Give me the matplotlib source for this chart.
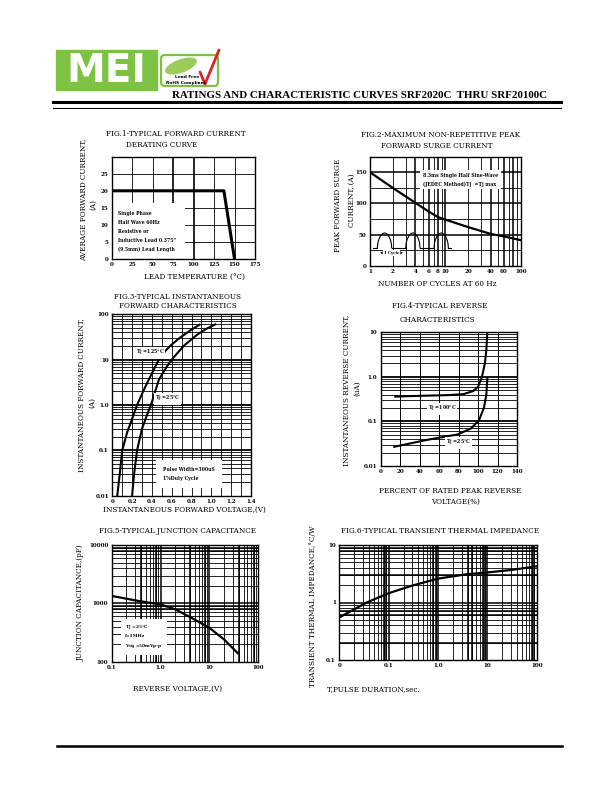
import numpy as np
import matplotlib
matplotlib.use('Agg')
import matplotlib.pyplot as plt
from matplotlib.patches import Rectangle, FancyBboxPatch, Ellipse

# ---- data ----
fig1_temp = [0, 137, 150]
fig1_current = [20, 20, 0]
fig1_xticks = [0, 25, 50, 75, 100, 125, 150, 175]
fig1_yticks = [0, 5, 10, 15, 20, 25]

fig2_cycles = [1, 2, 4, 6, 8, 10, 20, 40, 60, 100]
fig2_surge = [150, 125, 101, 87, 78, 74, 62, 51, 47, 41]
fig2_xticks = [1, 2, 4, 6, 8, 10, 20, 40, 60, 100]
fig2_yticks = [0, 50, 100, 150]

fig3_v_125 = [0.05, 0.075, 0.10, 0.15, 0.19, 0.25, 0.32, 0.40, 0.47, 0.54, 0.60, 0.67, 0.73, 0.80, 0.88]
fig3_i_125 = [0.01, 0.03, 0.1, 0.25, 0.43, 1.0, 2.2, 5.0, 10, 16, 21.5, 29, 36, 46, 59]
fig3_v_25 = [0.20, 0.22, 0.25, 0.30, 0.35, 0.39, 0.47, 0.54, 0.60, 0.67, 0.73, 0.80, 0.86, 0.95, 1.04]
fig3_i_25 = [0.01, 0.03, 0.1, 0.3, 0.6, 1.0, 3.6, 6.5, 10, 15, 21, 28, 36, 48, 60]
fig3_xticks = [0, 0.2, 0.4, 0.6, 0.8, 1.0, 1.2, 1.4]
fig3_xlabels = ['0', '0.2', '0.4', '0.6', '0.8', '1.0', '1.2', '1.4']
fig3_yticks = [0.01, 0.1, 1, 10, 100]
fig3_ylabels = ['0.01', '0.1', '1.0', '10', '100']

fig4_pct_100 = [15, 30, 50, 70, 85, 95, 100, 104, 107, 108.5, 109.5]
fig4_ir_100 = [0.36, 0.37, 0.38, 0.39, 0.41, 0.48, 0.6, 1.0, 2.0, 4.0, 10]
fig4_pct_25 = [14, 30, 46, 62, 79, 93, 101, 106, 108.5, 109.5]
fig4_ir_25 = [0.027, 0.032, 0.038, 0.044, 0.051, 0.07, 0.107, 0.2, 0.4, 0.9]
fig4_xticks = [0, 20, 40, 60, 80, 100, 120, 140]
fig4_yticks = [0.01, 0.1, 1, 10]
fig4_ylabels = ['0.01', '0.1', '1.0', '10']

fig5_v = [0.1, 0.35, 1.0, 2.0, 4.3, 10, 20, 38]
fig5_cj = [1340, 1100, 960, 790, 565, 380, 240, 140]
fig5_xticks = [0.1, 1, 10, 100]
fig5_xlabels = ['0.1', '1.0', '10', '100']
fig5_yticks = [100, 1000, 10000]
fig5_ylabels = ['100', '1000', '10000']

fig6_t = [0.01, 0.036, 0.1, 0.29, 1.0, 3.8, 10, 32, 100]
fig6_z = [0.55, 1.0, 1.45, 1.95, 2.6, 3.1, 3.33, 3.7, 4.25]
fig6_xticks = [0.01, 0.1, 1, 10, 100]
fig6_xlabels = ['0', '0.1', '1.0', '10', '100']
fig6_yticks = [0.1, 1, 10]
fig6_ylabels = ['0.1', '1', '10']

W, H = 612, 792
plt.rcParams['font.family'] = 'DejaVu Serif'
plt.rcParams['mathtext.fontset'] = 'dejavuserif'

fig = plt.figure(figsize=(6.12, 7.92), dpi=100)
bg = fig.add_axes([0, 0, 1, 1], zorder=-1)
bg.set_xlim(0, W)
bg.set_ylim(H, 0)
bg.axis('off')


def box(l, t, r, b):
    ax = fig.add_axes([l / W, 1 - b / H, (r - l) / W, (b - t) / H])
    for sp in ax.spines.values():
        sp.set_linewidth(1.0)
    ax.tick_params(length=0, pad=2.5, labelsize=4)
    return ax


def label(x, y, s, size=5.2, rot=0, ha='center'):
    bg.text(x, y, s, fontsize=size, rotation=rot, ha=ha, va='center')


def bold_ticks(ax):
    for t in ax.get_xticklabels() + ax.get_yticklabels():
        t.set_fontweight('bold')


def vgrid(ax, xs, lw=0.5):
    for x in xs:
        ax.axvline(x, color='k', lw=lw, zorder=1)


def hgrid(ax, ys, lw=0.5):
    for y in ys:
        ax.axhline(y, color='k', lw=lw, zorder=1)


def minors(lo, hi):
    return [k * 10.0 ** e for e in range(lo, hi) for k in range(2, 10)]


def decades(lo, hi):
    return [10.0 ** e for e in range(lo, hi + 1)]


# ---------------- header ----------------
bg.add_patch(Rectangle((56, 50), 101, 40, color='#7DC242'))
bg.text(106, 71, 'MEI', color='white', fontsize=28, fontweight='bold',
        family='DejaVu Sans', ha='center', va='center')
bg.add_patch(FancyBboxPatch((161, 55), 57, 31, boxstyle='round,pad=0,rounding_size=4',
                            fc='white', ec='#7DC242', lw=1.6))
bg.add_patch(Ellipse((181, 66), 32, 12, angle=-20, color='#9CCB5A'))
bg.text(187, 77.5, 'Lead Free', fontsize=3.2, fontweight='bold', family='DejaVu Sans', ha='center', va='center')
bg.text(186, 83, 'RoHS Compliant', fontsize=3.2, fontweight='bold', family='DejaVu Sans', ha='center', va='center')
bg.plot([200, 205, 219], [72, 84, 50], color='#E02020', lw=2.0, solid_capstyle='round')
bg.text(172, 95, 'RATINGS AND CHARACTERISTIC CURVES SRF2020C  THRU SRF20100C',
        fontsize=7.9, fontweight='bold', family='Liberation Serif', ha='left', va='center')
bg.plot([53, 561], [102, 102], color='k', lw=2.2)
bg.plot([53, 561], [107.5, 107.5], color='k', lw=0.8)
bg.plot([57, 562], [746, 746], color='k', lw=1.8)

# ---------------- FIG.1 ----------------
ax1 = box(111.7, 156.7, 255, 259)
ax1.set_xlim(0, 175)
ax1.set_ylim(0, 30)
vgrid(ax1, [25, 50, 125, 150], 0.6)
vgrid(ax1, [75, 100], 1.2)
hgrid(ax1, [5, 10, 15, 25], 0.6)
ax1.plot(fig1_temp, fig1_current, color='k', lw=2.2, zorder=3)
ax1.set_xticks(fig1_xticks)
ax1.set_yticks(fig1_yticks)
bold_ticks(ax1)
ax1.text(8, 8, 'Single Phase\nHalf Wave 60Hz\nResistive or\nInductive Load 0.375"\n(9.5mm) Lead Length',
         fontsize=3.3, fontweight='bold', linespacing=2.0, va='center', ha='left', zorder=2,
         bbox=dict(fc='white', ec='none', pad=6))
label(176, 134, 'FIG.1-TYPICAL FORWARD CURRENT')
label(162, 145, 'DERATING CURVE')
label(83, 200, 'AVERAGE FORWARD CURRENT,', rot=90)
label(93, 205, '(A)', rot=90)
label(194, 277, 'LEAD TEMPERATURE (\u00b0C)')

# ---------------- FIG.2 ----------------
ax2 = box(370, 156.7, 520.7, 265.7)
ax2.set_xscale('log')
ax2.set_xlim(1, 100)
ax2.set_ylim(0, 175)
vgrid(ax2, [2, 3, 5, 7, 9, 20, 30, 50, 70, 90], 0.6)
vgrid(ax2, [4, 6, 8, 10, 40, 60, 80], 1.1)
hgrid(ax2, [25, 75, 125], 0.6)
hgrid(ax2, [50, 100, 150], 1.1)
ax2.plot(fig2_cycles, fig2_surge, color='k', lw=1.6, zorder=3)
ax2.set_xticks(fig2_xticks)
ax2.set_xticklabels([str(v) for v in fig2_xticks])
ax2.xaxis.set_minor_locator(matplotlib.ticker.NullLocator())
ax2.set_yticks(fig2_yticks)
bold_ticks(ax2)
ax2.text(5.0, 138, '8.3ms Single Half Sine-Wave\n(JEDEC Method)Tj  =Tj max',
         fontsize=3.3, fontweight='bold', linespacing=1.8, va='center', ha='left', zorder=2,
         bbox=dict(fc='white', ec='none', pad=2))
# inset half-sine sketch, drawn in axes fraction
tr = ax2.transAxes
base_y, peak_y = 0.164, 0.30
hump_starts = [0.049, 0.237, 0.425]
hump_w = 0.095
ph = np.linspace(0, np.pi, 40)
for i, hs in enumerate(hump_starts):
    ax2.plot(hs + hump_w * ph / np.pi, base_y + (peak_y - base_y) * np.sqrt(np.sin(ph)),
             color='k', lw=0.8, transform=tr, zorder=3)
    nxt = hump_starts[i + 1] if i + 1 < len(hump_starts) else hs + hump_w + 0.02
    ax2.plot([hs + hump_w, nxt], [base_y, base_y], color='k', lw=0.8, transform=tr, zorder=3)
ax2.plot([0.022, hump_starts[0]], [base_y, base_y], color='k', lw=0.8, transform=tr, zorder=3)
ax2.annotate('', xy=(0.049, 0.118), xytext=(0.237, 0.118), xycoords=tr, textcoords=tr,
             arrowprops=dict(arrowstyle='<->', lw=0.5, mutation_scale=4))
ax2.text(0.143, 0.118, '1 Cycle', transform=tr, fontsize=2.8, fontweight='bold',
         ha='center', va='center', zorder=4, bbox=dict(fc='white', ec='none', pad=0.5))
label(441, 135, 'FIG.2-MAXIMUM NON-REPETITIVE PEAK')
label(437, 146, 'FORWARD SURGE CURRENT')
label(338, 205, 'PEAK FORWARD SURGE', rot=90)
label(352, 200, 'CURRENT, (A)', rot=90)
label(437, 284, 'NUMBER OF CYCLES AT 60 Hz')

# ---------------- FIG.3 ----------------
ax3 = box(112.3, 314.3, 251, 495.7)
ax3.set_yscale('log')
ax3.set_xlim(0, 1.4)
ax3.set_ylim(0.01, 100)
vgrid(ax3, np.arange(1, 14) / 10.0, 0.6)
hgrid(ax3, minors(-2, 2), 0.6)
hgrid(ax3, decades(-1, 1), 1.3)
ax3.plot(fig3_v_125, fig3_i_125, color='k', lw=1.5, zorder=3)
ax3.plot(fig3_v_25, fig3_i_25, color='k', lw=1.5, zorder=3)
ax3.set_xticks(fig3_xticks)
ax3.set_xticklabels(fig3_xlabels)
ax3.set_yticks(fig3_yticks)
ax3.set_yticklabels(fig3_ylabels)
ax3.yaxis.set_minor_locator(matplotlib.ticker.NullLocator())
bold_ticks(ax3)
ax3.text(0.38, 14.2, 'T$_\\mathregular{J}$ =125\u00b0C', fontsize=3.4, fontweight='bold',
         ha='center', va='center', zorder=4, bbox=dict(fc='white', ec='none', pad=0.6))
ax3.text(0.557, 1.36, 'T$_\\mathregular{J}$ =25\u00b0C', fontsize=3.4, fontweight='bold',
         ha='center', va='center', zorder=4, bbox=dict(fc='white', ec='none', pad=0.6))
ax3.text(0.515, 0.03, 'Pulse Width=300uS\n1%Duty Cycle', fontsize=3.3, fontweight='bold',
         linespacing=1.8, ha='left', va='center', zorder=4,
         bbox=dict(fc='white', ec='none', pad=5))
label(177, 297, 'FIG.3-TYPICAL INSTANTANEOUS')
label(178, 306, 'FORWARD CHARACTERISTICS')
label(81, 395, 'INSTANTANEOUS FORWARD CURRENT,', rot=90)
label(92, 403, '(A)', rot=90)
label(184, 510, 'INSTANTANEOUS FORWARD VOLTAGE,(V)')

# ---------------- FIG.4 ----------------
ax4 = box(380.7, 332.3, 517, 466)
ax4.set_yscale('log')
ax4.set_xlim(0, 140)
ax4.set_ylim(0.01, 10)
vgrid(ax4, [20, 40, 60, 80, 100, 120], 0.7)
hgrid(ax4, minors(-2, 1), 0.6)
hgrid(ax4, decades(-1, 0), 1.3)
ax4.plot(fig4_pct_100, fig4_ir_100, color='k', lw=1.5, zorder=3)
ax4.plot(fig4_pct_25, fig4_ir_25, color='k', lw=1.5, zorder=3)
ax4.set_xticks(fig4_xticks)
ax4.set_yticks(fig4_yticks)
ax4.set_yticklabels(fig4_ylabels)
ax4.yaxis.set_minor_locator(matplotlib.ticker.NullLocator())
bold_ticks(ax4)
ax4.text(63, 0.188, 'T$_\\mathregular{J}$ =100\u00b0C', fontsize=3.4, fontweight='bold',
         ha='center', va='center', zorder=4, bbox=dict(fc='white', ec='none', pad=0.6))
ax4.text(80, 0.0335, 'T$_\\mathregular{J}$ =25\u00b0C', fontsize=3.4, fontweight='bold',
         ha='center', va='center', zorder=4, bbox=dict(fc='white', ec='none', pad=0.6))
label(440, 306, 'FIG.4-TYPICAL REVERSE')
label(437, 320, 'CHARACTERISTICS')
label(346, 390, 'INSTANTANEOUS REVERSE CURRENT,', rot=90)
label(357, 388, '(uA)', rot=90)
label(450, 491, 'PERCENT OF RATED PEAK REVERSE')
label(456, 502, 'VOLTAGE(%)')

# ---------------- FIG.5 ----------------
ax5 = box(111.7, 545, 258.3, 661.7)
ax5.set_xscale('log')
ax5.set_yscale('log')
ax5.set_xlim(0.1, 100)
ax5.set_ylim(100, 10000)
vgrid(ax5, minors(-1, 2), 0.6)
vgrid(ax5, [0.4, 0.8, 1, 4, 8, 10, 40, 80], 1.1)
hgrid(ax5, minors(2, 4), 0.6)
hgrid(ax5, [800, 900, 1000, 8000, 9000], 1.1)
ax5.plot(fig5_v, fig5_cj, color='k', lw=1.6, zorder=3)
ax5.set_xticks(fig5_xticks)
ax5.set_xticklabels(fig5_xlabels)
ax5.set_yticks(fig5_yticks)
ax5.set_yticklabels(fig5_ylabels)
ax5.xaxis.set_minor_locator(matplotlib.ticker.NullLocator())
ax5.yaxis.set_minor_locator(matplotlib.ticker.NullLocator())
bold_ticks(ax5)
ax5.text(0.19, 262, 'T$_\\mathregular{J}$ =25\u00b0C\nf=1MHz\nV$_\\mathregular{sig}$ =50mVp-p',
         fontsize=3.2, fontweight='bold', linespacing=1.7, ha='left', va='center', zorder=4,
         bbox=dict(fc='white', ec='none', pad=3))
label(178, 531, 'FIG.5-TYPICAL JUNCTION CAPACITANCE')
label(81, 603, 'JUNCTION CAPACITANCE,(pF)', rot=90)
label(178, 689, 'REVERSE VOLTAGE,(V)')

# ---------------- FIG.6 ----------------
ax6 = box(339.3, 545, 536.7, 660)
ax6.set_xscale('log')
ax6.set_yscale('log')
ax6.set_xlim(0.01, 100)
ax6.set_ylim(0.1, 10)
vgrid(ax6, minors(-2, 2), 0.6)
vgrid(ax6, [0.08, 0.09, 0.1, 0.8, 0.9, 1, 4, 5, 8, 9, 10, 80, 90], 1.1)
hgrid(ax6, minors(-1, 1), 0.6)
hgrid(ax6, [0.2, 0.6, 0.7, 1, 3, 8, 9], 1.1)
ax6.plot(fig6_t, fig6_z, color='k', lw=1.6, zorder=3)
ax6.set_xticks(fig6_xticks)
ax6.set_xticklabels(fig6_xlabels)
ax6.set_yticks(fig6_yticks)
ax6.set_yticklabels(fig6_ylabels)
ax6.xaxis.set_minor_locator(matplotlib.ticker.NullLocator())
ax6.yaxis.set_minor_locator(matplotlib.ticker.NullLocator())
bold_ticks(ax6)
label(440, 531, 'FIG.6-TYPICAL TRANSIENT THERMAL IMPEDANCE')
label(313, 606, 'TRANSIENT THERMAL IMPEDANCE,\u00b0C/W', rot=90)
label(373, 689, 'T,PULSE DURATION,sec.')

fig.savefig('out.png', dpi=100)
